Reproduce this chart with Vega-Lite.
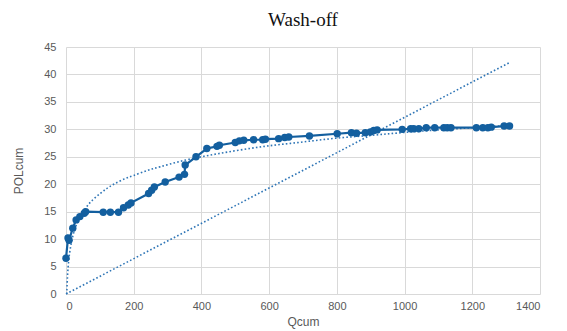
{
  "$schema": "https://vega.github.io/schema/vega-lite/v6.json",
  "autosize": {"type": "none"},
  "width": 474,
  "height": 247,
  "padding": {"left": 66, "top": 47, "right": 27, "bottom": 37},
  "background": "white",
  "title": {
    "text": "Wash-off",
    "font": "Liberation Serif",
    "fontSize": 19,
    "fontWeight": "normal",
    "color": "#111111",
    "anchor": "middle",
    "offset": 11
  },
  "config": {
    "view": {"stroke": null},
    "axis": {
      "labelFont": "Liberation Sans",
      "labelFontSize": 11,
      "labelColor": "#595959",
      "titleFont": "Liberation Sans",
      "titleFontSize": 12,
      "titleFontWeight": "normal",
      "titleColor": "#595959",
      "gridColor": "#d9d9d9",
      "gridWidth": 1,
      "domain": false,
      "ticks": false
    }
  },
  "datasets": {
    "obs": [
      {"Qcum": 0, "POLcum": 6.5},
      {"Qcum": 6, "POLcum": 10.2},
      {"Qcum": 9, "POLcum": 9.8},
      {"Qcum": 20, "POLcum": 12.0},
      {"Qcum": 30, "POLcum": 13.5},
      {"Qcum": 41, "POLcum": 14.1},
      {"Qcum": 54, "POLcum": 14.7},
      {"Qcum": 58, "POLcum": 15.0},
      {"Qcum": 110, "POLcum": 14.9},
      {"Qcum": 131, "POLcum": 14.9},
      {"Qcum": 155, "POLcum": 14.9},
      {"Qcum": 170, "POLcum": 15.7},
      {"Qcum": 184, "POLcum": 16.2},
      {"Qcum": 192, "POLcum": 16.6},
      {"Qcum": 244, "POLcum": 18.3},
      {"Qcum": 253, "POLcum": 18.9},
      {"Qcum": 261, "POLcum": 19.5},
      {"Qcum": 293, "POLcum": 20.4},
      {"Qcum": 334, "POLcum": 21.3},
      {"Qcum": 350, "POLcum": 21.8},
      {"Qcum": 352, "POLcum": 23.5},
      {"Qcum": 384, "POLcum": 25.0},
      {"Qcum": 416, "POLcum": 26.5},
      {"Qcum": 446, "POLcum": 26.9},
      {"Qcum": 453, "POLcum": 27.1},
      {"Qcum": 500, "POLcum": 27.6},
      {"Qcum": 512, "POLcum": 27.9},
      {"Qcum": 525, "POLcum": 28.0},
      {"Qcum": 554, "POLcum": 28.1},
      {"Qcum": 581, "POLcum": 28.1},
      {"Qcum": 589, "POLcum": 28.2},
      {"Qcum": 628, "POLcum": 28.3},
      {"Qcum": 646, "POLcum": 28.5},
      {"Qcum": 658, "POLcum": 28.6},
      {"Qcum": 719, "POLcum": 28.8},
      {"Qcum": 801, "POLcum": 29.2},
      {"Qcum": 843, "POLcum": 29.4},
      {"Qcum": 858, "POLcum": 29.3},
      {"Qcum": 884, "POLcum": 29.4},
      {"Qcum": 899, "POLcum": 29.5},
      {"Qcum": 909, "POLcum": 29.8},
      {"Qcum": 919, "POLcum": 29.9},
      {"Qcum": 993, "POLcum": 30.0},
      {"Qcum": 1018, "POLcum": 30.1},
      {"Qcum": 1027, "POLcum": 30.1},
      {"Qcum": 1042, "POLcum": 30.1},
      {"Qcum": 1064, "POLcum": 30.3},
      {"Qcum": 1089, "POLcum": 30.3},
      {"Qcum": 1116, "POLcum": 30.3},
      {"Qcum": 1126, "POLcum": 30.3},
      {"Qcum": 1137, "POLcum": 30.3},
      {"Qcum": 1212, "POLcum": 30.3},
      {"Qcum": 1231, "POLcum": 30.3},
      {"Qcum": 1246, "POLcum": 30.3},
      {"Qcum": 1256, "POLcum": 30.4},
      {"Qcum": 1294, "POLcum": 30.6},
      {"Qcum": 1310, "POLcum": 30.6}
    ],
    "logtrend": [
      {"Qcum": 2.3, "POLcum": 0},
      {"Qcum": 3, "POLcum": 1.3},
      {"Qcum": 5, "POLcum": 3.8},
      {"Qcum": 8, "POLcum": 6.1},
      {"Qcum": 12, "POLcum": 8.0},
      {"Qcum": 20, "POLcum": 10.5},
      {"Qcum": 32, "POLcum": 12.8},
      {"Qcum": 45, "POLcum": 14.4},
      {"Qcum": 61, "POLcum": 15.9},
      {"Qcum": 80, "POLcum": 17.2},
      {"Qcum": 101, "POLcum": 18.3},
      {"Qcum": 120, "POLcum": 19.2},
      {"Qcum": 141, "POLcum": 20.0},
      {"Qcum": 170, "POLcum": 20.9},
      {"Qcum": 200, "POLcum": 21.6},
      {"Qcum": 240, "POLcum": 22.5},
      {"Qcum": 279, "POLcum": 23.2},
      {"Qcum": 333, "POLcum": 24.1},
      {"Qcum": 400, "POLcum": 25.0},
      {"Qcum": 500, "POLcum": 26.1},
      {"Qcum": 600, "POLcum": 27.0},
      {"Qcum": 700, "POLcum": 27.7},
      {"Qcum": 800, "POLcum": 28.4},
      {"Qcum": 900, "POLcum": 28.9},
      {"Qcum": 993, "POLcum": 29.4},
      {"Qcum": 1100, "POLcum": 29.9},
      {"Qcum": 1200, "POLcum": 30.3},
      {"Qcum": 1310, "POLcum": 30.7}
    ],
    "lintrend": [
      {"Qcum": 0, "POLcum": 0},
      {"Qcum": 1308, "POLcum": 42.1}
    ]
  },
  "encoding": {
    "x": {
      "field": "Qcum", "type": "quantitative", "title": "Qcum",
      "scale": {"domain": [0, 1400], "nice": false},
      "axis": {"values": [0, 200, 400, 600, 800, 1000, 1200, 1400], "format": "d", "labelPadding": 6, "titlePadding": 5}
    },
    "y": {
      "field": "POLcum", "type": "quantitative", "title": "POLcum",
      "scale": {"domain": [0, 45], "nice": false},
      "axis": {"values": [0, 5, 10, 15, 20, 25, 30, 35, 40, 45], "labelPadding": 10, "titlePadding": 18}
    }
  },
  "layer": [
    {
      "data": {"name": "logtrend"},
      "mark": {"type": "line", "color": "#2e75b6", "strokeWidth": 1.6, "strokeDash": [1.6, 2.2], "interpolate": "natural", "clip": true}
    },
    {
      "data": {"name": "lintrend"},
      "mark": {"type": "line", "color": "#2e75b6", "strokeWidth": 1.6, "strokeDash": [1.6, 2.2]}
    },
    {
      "data": {"name": "obs"},
      "mark": {"type": "line", "color": "#135f9f", "strokeWidth": 2.2, "point": {"filled": true, "size": 55, "color": "#135f9f", "opacity": 1}}
    }
  ]
}
